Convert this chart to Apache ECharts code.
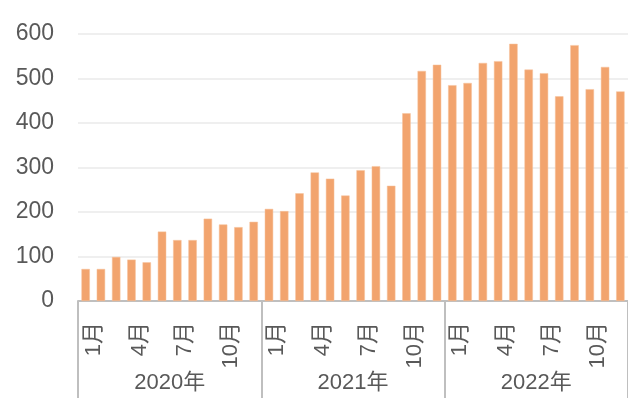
<!DOCTYPE html>
<html>
<head>
<meta charset="utf-8">
<script src="https://cdn.jsdelivr.net/npm/echarts@6/dist/echarts.min.js"></script>
<style>
html,body{margin:0;padding:0;background:#fff;}
#c{width:628px;height:398px;}
</style>
</head>
<body>
<div id="c"></div>
<script>
const years = ['2020年', '2021年', '2022年'];
const months = ['1月','2月','3月','4月','5月','6月','7月','8月','9月','10月','11月','12月'];
const values2020 = [72, 72, 99, 93, 87, 156, 137, 137, 185, 172, 166, 178];
const values2021 = [207, 202, 242, 289, 275, 237, 294, 303, 259, 422, 517, 531];
const values2022 = [485, 490, 535, 539, 578, 520, 512, 460, 575, 476, 526, 471];
const yTicks = [0, 100, 200, 300, 400, 500, 600];

const monthCats = [];
years.forEach(function (y) { months.forEach(function (m) { monthCats.push(y + m); }); });
const allValues = values2020.concat(values2021, values2022);

const chart = echarts.init(document.getElementById('c'), null, {renderer: 'canvas'});
const font = '"Liberation Sans", "Noto Sans CJK JP", sans-serif';
chart.setOption({
  animation: false,
  backgroundColor: '#ffffff',
  grid: {left: 78, right: -2, top: 34, bottom: 97, containLabel: false},
  xAxis: [
    {
      type: 'category',
      data: monthCats,
      position: 'bottom',
      axisLine: {show: true, lineStyle: {color: '#bfbfbf', width: 2}},
      axisTick: {show: false},
      axisLabel: {
        interval: 2,
        rotate: 90,
        margin: 21,
        color: '#595959',
        fontFamily: font,
        formatter: function (v) { return '{m|' + v.slice(5) + '}'; },
        rich: {
          m: {fontSize: 22, color: '#595959', fontFamily: font, padding: [16, 0, 0, 0]}
        }
      },
      splitLine: {show: false}
    },
    {
      type: 'category',
      data: years,
      position: 'bottom',
      axisLine: {show: false},
      axisTick: {show: true, length: 100, lineStyle: {color: '#bfbfbf', width: 2}},
      axisLabel: {margin: 71, fontSize: 22, color: '#595959', fontFamily: font},
      splitLine: {show: false}
    }
  ],
  yAxis: {
    type: 'value',
    min: yTicks[0],
    max: yTicks[yTicks.length - 1],
    interval: 100,
    axisLine: {show: false},
    axisTick: {show: false},
    axisLabel: {margin: 24, fontSize: 23, color: '#595959', fontFamily: font},
    splitLine: {lineStyle: {color: '#efefef', width: 2}}
  },
  series: [{
    type: 'bar',
    xAxisIndex: 0,
    data: allValues,
    barCategoryGap: '45%',
    itemStyle: {color: '#f2a46e', borderColor: '#f7c29c', borderWidth: 0.5}
  }]
});
</script>
</body>
</html>
